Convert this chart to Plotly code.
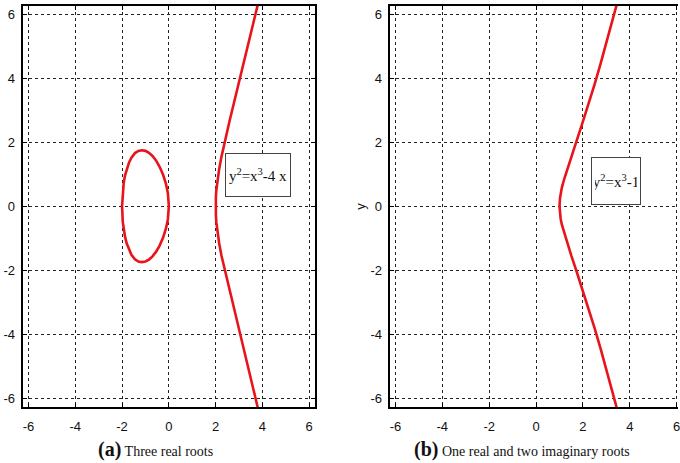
import plotly.graph_objects as go

# Panel (a): y^2 = x^3 - 4x
oval_x = [-2.0, -1.97, -1.93, -1.87, -1.8, -1.7, -1.6, -1.45, -1.3, -1.15, -1.0, -0.85, -0.7, -0.55, -0.4, -0.25, -0.12, -0.04, 0.0,
          -0.04, -0.12, -0.25, -0.4, -0.55, -0.7, -0.85, -1.0, -1.15, -1.3, -1.45, -1.6, -1.7, -1.8, -1.87, -1.93, -1.97, -2.0]
oval_y = [0.0, 0.49, 0.73, 0.97, 1.17, 1.37, 1.52, 1.66, 1.73, 1.75, 1.73, 1.67, 1.57, 1.43, 1.24, 0.99, 0.69, 0.40, 0.0,
          -0.40, -0.69, -0.99, -1.24, -1.43, -1.57, -1.67, -1.73, -1.75, -1.73, -1.66, -1.52, -1.37, -1.17, -0.97, -0.73, -0.49, 0.0]
branch_a_x = [3.8, 3.6, 3.4, 3.2, 3.0, 2.8, 2.6, 2.4, 2.25, 2.15, 2.08, 2.03, 2.01, 2.0,
              2.01, 2.03, 2.08, 2.15, 2.25, 2.4, 2.6, 2.8, 3.0, 3.2, 3.4, 3.6, 3.8]
branch_a_y = [-6.30, -5.68, -5.07, -4.47, -3.87, -3.28, -2.68, -2.06, -1.55, -1.16, -0.82, -0.50, -0.28, 0.0,
              0.28, 0.50, 0.82, 1.16, 1.55, 2.06, 2.68, 3.28, 3.87, 4.47, 5.07, 5.68, 6.30]

# Panel (b): y^2 = x^3 - 1
branch_b_x = [3.45, 3.25, 3.0, 2.75, 2.5, 2.25, 2.0, 1.75, 1.5, 1.3, 1.2, 1.1, 1.05, 1.02, 1.0,
              1.02, 1.05, 1.1, 1.2, 1.3, 1.5, 1.75, 2.0, 2.25, 2.5, 2.75, 3.0, 3.25, 3.45]
branch_b_y = [-6.33, -5.77, -5.10, -4.45, -3.82, -3.22, -2.65, -2.09, -1.54, -1.09, -0.85, -0.58, -0.40, -0.25, 0.0,
              0.25, 0.40, 0.58, 0.85, 1.09, 1.54, 2.09, 2.65, 3.22, 3.82, 4.45, 5.10, 5.77, 6.33]

tick_vals = [-6, -4, -2, 0, 2, 4, 6]
tick_text = ["-6", "-4", "-2", "0", "2", "4", "6"]

label_a = "y<sup>2</sup>=x<sup>3</sup>-4 x"
label_b = "y<sup>2</sup>=x<sup>3</sup>-1"
caption_a = "<b><span style='font-size:20px'>(a)</span></b> Three real roots"
caption_b = "<b><span style='font-size:20px'>(b)</span></b> One real and two imaginary roots"

RED = "#e8141a"
NARROW = "Liberation Sans Narrow, Arial Narrow, Liberation Sans, Arial"
tickfont = dict(family=NARROW, size=13, color="#111")

fig = go.Figure()
line = dict(color=RED, width=2.6)
fig.add_trace(go.Scatter(x=oval_x, y=oval_y, mode="lines", line=line, xaxis="x", yaxis="y", showlegend=False))
fig.add_trace(go.Scatter(x=branch_a_x, y=branch_a_y, mode="lines", line=line, xaxis="x", yaxis="y", showlegend=False))
fig.add_trace(go.Scatter(x=branch_b_x, y=branch_b_y, mode="lines", line=line, xaxis="x2", yaxis="y2", showlegend=False))

common = dict(
    tickmode="array", tickvals=tick_vals, ticktext=tick_text, tickfont=tickfont,
    showgrid=True, gridcolor="#222", gridwidth=1, griddash="dot",
    showline=True, linecolor="black", linewidth=2,
    ticks="inside", ticklen=4, tickcolor="black", tickwidth=1,
    zeroline=False, fixedrange=True, ticklabeloverflow="allow",
)
ydom = [0.121, 0.987]
fig.update_layout(
    width=680, height=463,
    margin=dict(l=0, r=0, t=0, b=0),
    paper_bgcolor="white", plot_bgcolor="white",
    xaxis=dict(domain=[0.0334, 0.4647], range=[-6.25, 6.25], anchor="y", mirror="ticks", ticklabelstandoff=6, **common),
    yaxis=dict(domain=ydom, range=[-6.28, 6.26], anchor="x", mirror="ticks", ticklabelstandoff=3, **common),
    xaxis2=dict(domain=[0.5746, 1.0], range=[-6.25, 6.055], anchor="y2", mirror="ticks", ticklabelstandoff=6, **common),
    yaxis2=dict(domain=ydom, range=[-6.28, 6.26], anchor="x2", mirror=False, ticklabelstandoff=3,
                title=dict(text="y", font=dict(family=NARROW, size=13, color="#111"), standoff=2),
                **common),
)

boxfont = dict(family="Liberation Serif, Times New Roman, serif", size=15, color="#111")
fig.add_annotation(x=3.82, y=0.97, xref="x", yref="y", text=label_a, showarrow=False, font=boxfont,
                   bordercolor="#444", borderwidth=1, borderpad=3, bgcolor="white", width=58, height=36)
fig.add_annotation(x=3.42, y=0.80, xref="x2", yref="y2", text=label_b, showarrow=False, font=boxfont,
                   bordercolor="#444", borderwidth=1, borderpad=3, bgcolor="white", width=42, height=40)

capfont = dict(family="Liberation Serif, Times New Roman, serif", size=14, color="#111")
fig.add_annotation(x=156 / 680, y=1 - 449 / 463, xref="paper", yref="paper", text=caption_a, showarrow=False,
                   font=capfont, xanchor="center", yanchor="middle")
fig.add_annotation(x=524 / 680, y=1 - 449 / 463, xref="paper", yref="paper", text=caption_b, showarrow=False,
                   font=capfont, xanchor="center", yanchor="middle")

fig.write_html("out.html", config={"displayModeBar": False},
               post_script="document.body.style.margin='0';document.body.style.overflow='hidden';")
